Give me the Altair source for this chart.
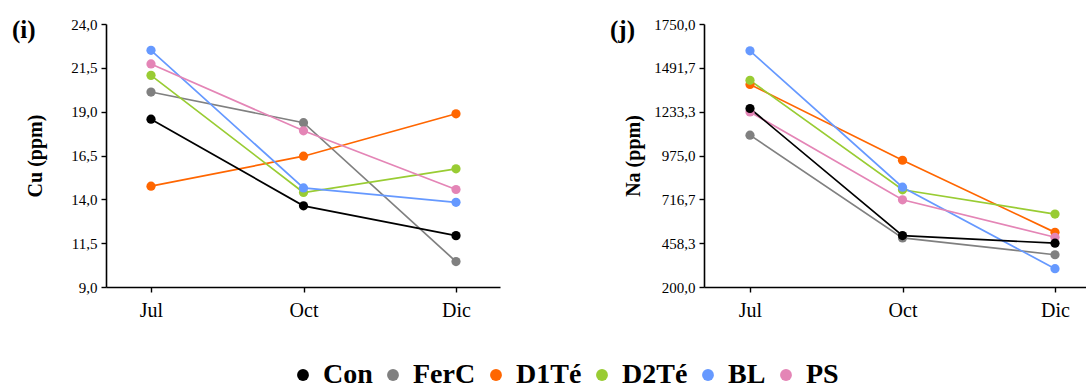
import altair as alt
import pandas as pd

# Sampling months and treatments
months = ["Jul", "Oct", "Dic"]
groups = ["Con", "FerC", "D1Té", "D2Té", "BL", "PS"]
colors = ["#000000", "#808080", "#FF6600", "#99CC33", "#6699FF", "#E485B6"]

# Cu (ppm) per treatment, in month order
cu_con = [18.57, 13.63, 11.93]
cu_ferc = [20.12, 18.37, 10.45]
cu_d1te = [14.75, 16.46, 18.88]
cu_d2te = [21.07, 14.39, 15.74]
cu_bl = [22.50, 14.65, 13.83]
cu_ps = [21.72, 17.91, 14.56]

# Na (ppm) per treatment, in month order
na_con = [1252, 503, 458]
na_ferc = [1095, 489, 390]
na_d1te = [1394, 947, 522]
na_d2te = [1418, 773, 630]
na_bl = [1592, 788, 308]
na_ps = [1232, 714, 493]

cu_ticks = [9.0, 11.5, 14.0, 16.5, 19.0, 21.5, 24.0]
na_ticks = [200.0, 458.333, 716.667, 975.0, 1233.333, 1491.667, 1750.0]

# draw order: control series on top
draw_order = ["FerC", "D1Té", "D2Té", "BL", "PS", "Con"]


def to_frame(series):
    rows = []
    for g in draw_order:
        for i, (m, v) in enumerate(zip(months, series[g])):
            rows.append({"grupo": g, "mes": m, "idx": i, "valor": v})
    return pd.DataFrame(rows)


cu_df = to_frame(dict(zip(groups, [cu_con, cu_ferc, cu_d1te, cu_d2te, cu_bl, cu_ps])))
na_df = to_frame(dict(zip(groups, [na_con, na_ferc, na_d1te, na_d2te, na_bl, na_ps])))

SERIF = "Liberation Serif"
month_expr = "[" + ",".join("'%s'" % m for m in months) + "][datum.value]"
comma_expr = "replace(format(datum.value, '.1f'), '.', ',')"

color_scale = alt.Scale(domain=groups, range=colors)

legend = alt.Legend(
    orient="none", legendX=183, legendY=337, direction="horizontal",
    title=None, symbolType="circle", labelFont=SERIF, labelFontSize=28,
    labelFontWeight="bold", labelColor="black",
)


def panel(df, ytitle, ticks, label, width, xdomain):
    x = alt.X(
        "idx:Q",
        scale=alt.Scale(domain=xdomain, nice=False, zero=False),
        axis=alt.Axis(values=[0, 1, 2], labelExpr=month_expr, title=None,
                      labelFontSize=20, labelPadding=8, grid=False),
    )
    y = alt.Y(
        "valor:Q",
        scale=alt.Scale(domain=[ticks[0], ticks[-1]], nice=False, zero=False),
        axis=alt.Axis(values=ticks, labelExpr=comma_expr, title=ytitle,
                      labelFontSize=15, labelPadding=4, grid=False,
                      titleFont=SERIF, titleFontSize=20, titleFontWeight="bold",
                      titleAngle=-90, titleX=-71, titleY=131.5,
                      titleBaseline="middle", titleAlign="center"),
    )
    color = alt.Color("grupo:N", scale=color_scale, legend=legend)
    lines = alt.Chart(df).mark_line(strokeWidth=1.7).encode(
        x=x, y=y, color=color, detail="grupo:N",
    )
    points = alt.Chart(df).mark_circle(size=85, opacity=1).encode(
        x=x, y=y, color=color,
    )
    tag = alt.Chart(alt.Data(values=[{"t": label}])).mark_text(
        font=SERIF, fontSize=25, fontWeight="bold", color="black",
        align="left", baseline="alphabetic",
    ).encode(text="t:N", x=alt.value(-94), y=alt.value(13.5))
    return alt.layer(lines, points, tag).properties(width=width, height=263)


left = panel(cu_df, "Cu (ppm)", cu_ticks, "(i)", 394, [-45 / 152.5, 349 / 152.5])
right = panel(na_df, "Na (ppm)", na_ticks, "(j)", 382, [-46 / 152.5, 336 / 152.5])

chart = (
    alt.hconcat(left, right, spacing=110)
    .properties(padding={"left": 12, "top": 17, "right": 0, "bottom": 0})
    .configure(font=SERIF)
    .configure_view(stroke=None)
    .configure_axis(
        labelFont=SERIF, labelColor="black", domainColor="black",
        domainWidth=1.6, tickColor="black", tickWidth=1.4, tickSize=5,
        titleColor="black",
    )
    .configure_legend(
        labelFont=SERIF, labelFontSize=28, labelFontWeight="bold",
        labelColor="black", labelOffset=6, columnPadding=6,
        symbolSize=140, symbolStrokeWidth=0, symbolOpacity=1,
        gridAlign="none", padding=0,
    )
)

chart.save("out.html", embed_options={"renderer": "svg", "actions": False})
